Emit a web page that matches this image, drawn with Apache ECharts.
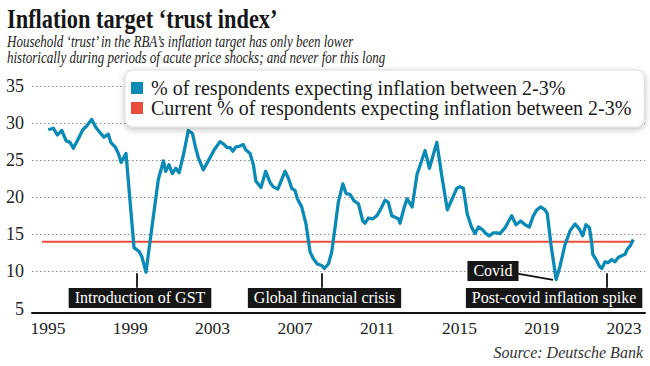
<!DOCTYPE html>
<html><head><meta charset="utf-8">
<script src="https://cdn.jsdelivr.net/npm/echarts@6/dist/echarts.min.js"></script>
<style>html,body{margin:0;padding:0;background:#fff}#c{width:650px;height:366px}</style>
</head><body><div id="c"></div>
<script>
const seriesName = '% of respondents expecting inflation between 2-3%';
const currentName = 'Current % of respondents expecting inflation between 2-3%';
const years = [
1995.01,1995.26,1995.45,1995.67,1995.88,1996.07,1996.23,1996.42,1996.69,1996.88,
1997.12,1997.33,1997.53,1997.72,1997.93,1998.05,1998.26,1998.42,1998.55,1998.79,
1999.18,1999.42,1999.56,1999.76,2000.36,2000.61,2000.72,2000.88,2001.04,2001.21,
2001.37,2001.58,2001.82,2002.02,2002.18,2002.31,2002.55,2002.79,2003.08,2003.36,
2003.57,2003.69,2003.85,2003.98,2004.14,2004.33,2004.49,2004.61,2004.82,2004.98,
2005.10,2005.35,2005.58,2005.79,2005.95,2006.17,2006.36,2006.52,2006.68,2006.85,
2007.01,2007.12,2007.33,2007.54,2007.74,2007.90,2008.09,2008.31,2008.43,2008.63,
2008.79,2008.95,2009.11,2009.33,2009.49,2009.68,2009.88,2010.09,2010.30,2010.41,
2010.57,2010.79,2010.98,2011.17,2011.38,2011.54,2011.71,2011.87,2012.03,2012.11,
2012.31,2012.45,2012.70,2012.94,2013.33,2013.54,2013.90,2014.14,2014.41,2014.63,
2014.87,2015.03,2015.19,2015.38,2015.60,2015.76,2015.92,2016.13,2016.25,2016.44,
2016.65,2016.84,2016.97,2017.22,2017.54,2017.75,2017.98,2018.19,2018.40,2018.59,
2018.76,2018.95,2019.16,2019.27,2019.45,2019.70,2019.89,2020.13,2020.38,2020.62,
2020.83,2020.99,2021.15,2021.32,2021.43,2021.48,2021.64,2021.80,2021.92,2022.08,
2022.24,2022.40,2022.56,2022.73,2022.89,2023.05,2023.16,2023.29,2023.45];
const values = [
29.1,29.3,28.4,29.0,27.6,27.4,26.6,27.6,29.1,29.6,
30.5,29.4,28.7,28.1,28.5,27.4,26.8,25.9,24.7,25.9,
13.2,12.7,12.0,9.9,22.4,24.9,23.5,24.4,23.2,23.9,
23.3,25.7,29.0,28.6,26.6,25.3,23.7,24.9,26.4,27.5,
27.1,26.7,26.7,26.2,26.8,26.9,27.1,26.4,25.9,24.4,
22.2,21.3,23.5,22.0,21.4,21.1,22.4,23.5,22.6,21.2,
20.9,19.8,18.7,16.4,12.6,11.7,11.0,10.8,10.4,11.0,
12.6,15.9,19.3,21.8,20.5,20.4,19.5,19.1,16.8,16.5,
17.2,17.1,17.5,18.4,19.6,19.3,17.5,17.3,17.1,16.5,
18.6,19.8,18.7,23.1,26.3,23.9,27.4,22.9,18.3,19.7,
21.2,21.4,21.2,17.7,15.9,15.1,16.0,15.6,15.2,14.8,
15.2,15.2,15.1,15.9,17.5,16.3,16.8,16.3,16.0,17.5,
18.3,18.7,18.3,17.8,13.6,8.9,10.7,13.6,15.5,16.4,
15.7,14.8,16.3,15.9,13.8,12.3,11.6,10.7,10.4,11.3,
11.2,11.6,11.3,11.9,12.1,12.3,13.0,13.4,14.3];
const currentLevel = 14;
const currentSpan = [1994.71, 2023.45];
const xTickLabels = [1995,1999,2003,2007,2011,2015,2019,2023];
const yTickLabels = [5,10,15,20,25,30,35];
const annotationLabels = [
  {name:'Introduction of GST', at:[1999.47, 6.42]},
  {name:'Global financial crisis', at:[2008.44, 6.42]},
  {name:'Covid', at:[2016.63, 10.06]},
  {name:'Post-covid inflation spike', at:[2019.60, 6.42]}
];
const annotationArrows = [
  [[1999.33, 7.8],[1999.33, 9.75]],
  [[2008.32, 7.8],[2008.32, 9.75]],
  [[2017.75, 9.75],[2019.55, 8.85]],
  [[2022.18, 7.8],[2022.18, 9.75]]
];

const BLUE = '#0b8ab6', RED = '#e84d3b';
const SERIF = '"Liberation Serif", "DejaVu Serif", serif';
const chart = echarts.init(document.getElementById('c'), null, {renderer:'svg'});
chart.setOption({
  animation:false,
  backgroundColor:'#fff',
  grid:{left:32, right:5, top:86, bottom:57.5},
  xAxis:{type:'value', min:1994.22, max:2024.02, offset:4.5,
    axisLine:{show:true, onZero:false, lineStyle:{color:'#111', width:2}},
    axisTick:{show:false}, splitLine:{show:false},
    axisLabel:{customValues:xTickLabels, formatter:v=>String(v), margin:6, color:'#222', fontSize:17.5, fontFamily:SERIF}},
  yAxis:{type:'value', min:5, max:35, interval:5,
    axisLine:{show:false}, axisTick:{show:false},
    axisLabel:{customValues:yTickLabels, margin:8, color:'#222', fontSize:18, fontFamily:SERIF},
    splitLine:{show:true, showMinLine:false, lineStyle:{color:'#8c8c8c', type:[1.5,2.5], width:1}}},
  legend:{orient:'vertical', left:125, top:70, padding:[8,13,9,6], itemGap:0, itemWidth:12, itemHeight:12,
    icon:'rect', backgroundColor:'#fff', borderColor:'#dcdcdc', borderWidth:1, borderRadius:8,
    shadowBlur:6, shadowColor:'rgba(0,0,0,0.25)', shadowOffsetY:2,
    textStyle:{fontSize:20, fontFamily:SERIF, color:'#1a1a1a', padding:[0,0,0,3]},
    data:[seriesName, currentName]},
  series:[
    {name:seriesName, type:'line', z:3, color:BLUE, showSymbol:false, symbol:'none',
      lineStyle:{color:BLUE, width:3.3, join:'round'},
      data:years.map((y,i)=>[y, values[i]]),
      markPoint:{silent:true, symbol:'rect', symbolSize:1, itemStyle:{color:'rgba(0,0,0,0)'},
        label:{show:true, position:'inside', formatter:'{b}', backgroundColor:'#161616', color:'#fff',
          padding:[2,6,1,6], fontSize:16, fontFamily:SERIF, lineHeight:17},
        data:annotationLabels.map(a=>({name:a.name, coord:a.at}))},
      markLine:{silent:true, symbol:['none','arrow'], symbolSize:[0,9],
        lineStyle:{color:'#111', width:1.8, type:'solid'}, label:{show:false},
        data:annotationArrows.map(a=>[{coord:a[0]},{coord:a[1]}])}
    },
    {name:currentName, type:'line', z:2, color:RED, showSymbol:false, symbol:'none',
      lineStyle:{color:RED, width:2.2},
      data:currentSpan.map(y=>[y, currentLevel])}
  ],
  graphic:[
    {type:'text', x:7, y:18, scaleX:0.8, style:{text:'Inflation target \u2018trust index\u2019', font:'bold 28px '+SERIF, fill:'#161616', align:'left', verticalAlign:'middle'}},
    {type:'text', x:7, y:41, scaleX:0.766, style:{text:'Household \u2018trust\u2019 in the RBA\u2019s inflation target has only been lower', font:'italic 17px '+SERIF, fill:'#222', align:'left', verticalAlign:'middle'}},
    {type:'text', x:7, y:57.6, scaleX:0.766, style:{text:'historically during periods of acute price shocks; and never for this long', font:'italic 17px '+SERIF, fill:'#222', align:'left', verticalAlign:'middle'}},
    {type:'text', x:643, y:352.5, style:{text:'Source: Deutsche Bank', font:'italic 16px '+SERIF, fill:'#333', align:'right', verticalAlign:'middle'}}
  ]
});
</script></body></html>
